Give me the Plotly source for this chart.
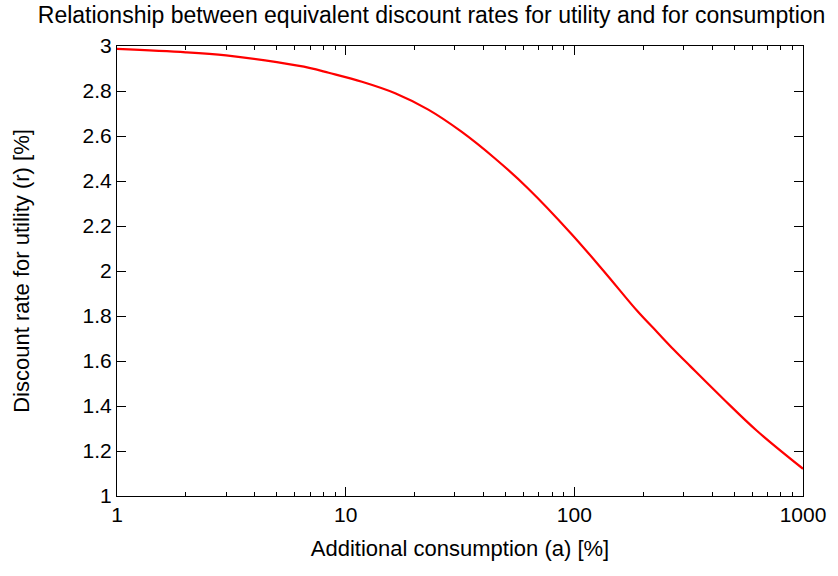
import plotly.graph_objects as go

# Data
consumption_pct = [1, 2, 3, 5, 7, 8.43, 11.78, 16.46, 22.98, 32.09, 44.86, 62.6, 96.7,
                   135.2, 188.6, 230.5, 272.4, 322, 449.8, 628.3, 1000]
utility_rate_pct = [2.987, 2.972, 2.958, 2.928, 2.902, 2.881, 2.841, 2.790, 2.717, 2.619,
                    2.501, 2.368, 2.167, 1.997, 1.822, 1.728, 1.650, 1.576, 1.430, 1.290, 1.121]

x_major = [1, 10, 100, 1000]
x_major_text = ["1", "10", "100", "1000"]
x_minor = [m * d for d in (1, 10, 100) for m in range(2, 10)]
y_ticks = [1, 1.2, 1.4, 1.6, 1.8, 2, 2.2, 2.4, 2.6, 2.8, 3]
y_tick_text = ["1", "1.2", "1.4", "1.6", "1.8", "2", "2.2", "2.4", "2.6", "2.8", "3"]

font = "Liberation Sans, Arial, sans-serif"
fs = 21

fig = go.Figure()
fig.add_trace(go.Scatter(
    x=consumption_pct, y=utility_rate_pct, mode="lines",
    line=dict(color="#ff0000", width=2.2, shape="spline", smoothing=1),
    showlegend=False,
))

fig.update_layout(
    width=838, height=576,
    margin=dict(l=117, r=32, t=46, b=80),
    paper_bgcolor="white", plot_bgcolor="white",
    font=dict(family=font, size=fs, color="black"),
    title=dict(text="Relationship between equivalent discount rates for utility and for consumption",
               x=0.515, xanchor="center", y=0.988, yanchor="top",
               font=dict(family=font, size=23, color="black")),
)
fig.update_xaxes(
    type="log", range=[0, 3],
    tickmode="array", tickvals=x_major, ticktext=x_major_text,
    ticks="inside", ticklen=9, tickwidth=1, tickcolor="black",
    minor=dict(tickvals=x_minor, ticks="inside", ticklen=4, tickwidth=1, tickcolor="black", showgrid=False),
    showline=True, linecolor="black", linewidth=1, mirror="allticks",
    showgrid=False, zeroline=False,
    title=dict(text="Additional consumption (a) [%]", standoff=15,
               font=dict(family=font, size=22)),
    tickfont=dict(family=font, size=fs),
)
fig.update_yaxes(
    range=[1, 3],
    tickmode="array", tickvals=y_ticks, ticktext=y_tick_text,
    ticks="inside", ticklen=9, tickwidth=1, tickcolor="black",
    showline=True, linecolor="black", linewidth=1, mirror="allticks",
    showgrid=False, zeroline=False,
    title=dict(text="Discount rate for utility (r) [%]", standoff=46,
               font=dict(family=font, size=22)),
    tickfont=dict(family=font, size=fs),
)

fig.write_html("out.html")
